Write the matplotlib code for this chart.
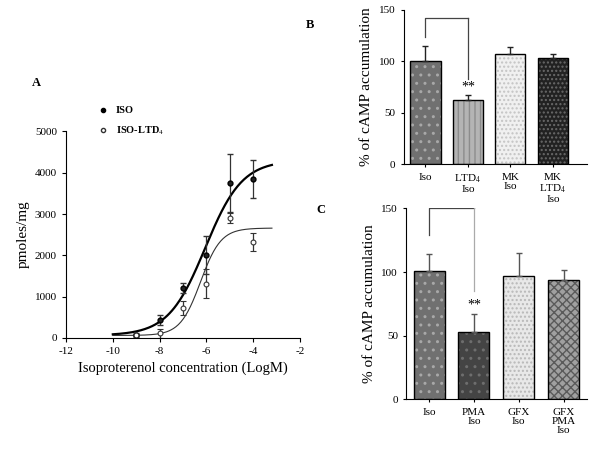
import numpy as np
import matplotlib
matplotlib.use('Agg')
import matplotlib.pyplot as plt
from matplotlib.lines import Line2D

plt.rcParams['font.family'] = ['Liberation Serif', 'DejaVu Serif']
plt.rcParams['mathtext.fontset'] = 'stix'
plt.rcParams['hatch.linewidth'] = 1.0
plt.rcParams['axes.unicode_minus'] = False

# panel A: dose response
conc = [-9, -8, -7, -6, -5, -4]
iso = [80, 440, 1200, 2010, 3760, 3850]
iso_err = [40, 120, 120, 470, 700, 460]
ltd = [60, 110, 730, 1310, 2910, 2330]
ltd_err = [40, 100, 170, 350, 120, 220]
# sigmoid fit parameters (bottom, top, logEC50, hill)
iso_fit = (60, 4300, -6.05, 0.55)
ltd_fit = (60, 2660, -6.25, 1.0)

# panel B
b_labels = ['Iso', 'LTD$_4$\nIso', 'MK\nIso', 'MK\nLTD$_4$\nIso']
b_vals = [100, 62, 107, 103]
b_err = [15, 5, 7, 4]
b_face = ['#707070', '#b4b4b4', '#f0f0f0', '#222222']
b_hatch = ['..', '|||', '....', '....']
b_hcol = ['#a8a8a8', '#8c8c8c', '#c4c4c4', '#6a6a6a']
b_bracket = [142, 124, 83]

# panel C
c_labels = ['Iso', 'PMA\nIso', 'GFX\nIso', 'GFX\nPMA\nIso']
c_vals = [101, 53, 97, 94]
c_err = [13, 14, 18, 8]
c_face = ['#707070', '#444444', '#e8e8e8', '#a0a0a0']
c_hatch = ['..', '..', '....', 'xxxx']
c_hcol = ['#a8a8a8', '#6e6e6e', '#b8b8b8', '#5a5a5a']
c_bracket = [150, 129, 85]


def logistic(x, p):
    b, t, e, h = p
    return b + (t - b) / (1 + 10 ** ((e - x) * h))


fig = plt.figure(figsize=(6, 4.5), dpi=100)

# ---- A ----
axA = fig.add_axes([0.11, 0.249, 0.39, 0.459])
xs = np.linspace(-10, -3.2, 200)
axA.plot(xs, logistic(xs, iso_fit), color='black', lw=1.6)
axA.plot(xs, logistic(xs, ltd_fit), color='#333333', lw=0.8)
axA.errorbar(conc, iso, yerr=iso_err, fmt='o', color='black', ms=3.5, mfc='#222222',
             mec='black', ecolor='#333333', elinewidth=0.9, capsize=2.5)
axA.errorbar(conc, ltd, yerr=ltd_err, fmt='o', color='black', ms=3.5, mfc='white',
             mec='#333333', mew=0.8, ecolor='#333333', elinewidth=0.9, capsize=2.5)
axA.set_xlim(-12, -2)
axA.set_ylim(0, 5000)
axA.set_xticks([-12, -10, -8, -6, -4, -2])
axA.set_yticks([0, 1000, 2000, 3000, 4000, 5000])
for s in ['top', 'right']:
    axA.spines[s].set_visible(False)
axA.tick_params(labelsize=8, length=3)
axA.set_xlabel('Isoproterenol concentration (LogM)', fontsize=10.5)
axA.set_ylabel('pmoles/mg', fontsize=11)
handles = [Line2D([], [], marker='o', ls='none', color='black', ms=3),
           Line2D([], [], marker='o', ls='none', mfc='white', mec='#333333', ms=3)]
fig.legend(handles, ['ISO', 'ISO-LTD$_4$'], loc='upper left', bbox_to_anchor=(0.148, 0.785),
           frameon=False, prop={'size': 7.5, 'weight': 'bold'}, handletextpad=0.7,
           handlelength=1.0, labelspacing=0.9)
fig.text(0.053, 0.81, 'A', fontsize=9, fontweight='bold')


def bar_panel(ax, labels, vals, err, face, hatch, hcol, bracket, width, xmax, ecol, rcol):
    x = np.arange(len(vals))
    ax.bar(x, vals, width=width, color=face, edgecolor=hcol, hatch=hatch, lw=0)
    ax.bar(x, vals, width=width, fill=False, edgecolor='black', lw=1.0)
    ax.errorbar(x, vals, yerr=[[0] * len(vals), err], fmt='none', ecolor=ecol,
                elinewidth=1.0, capsize=2.5, capthick=1.0)
    ax.plot([x[0], x[0], x[1]], [bracket[1], bracket[0], bracket[0]], color='#444444', lw=0.9)
    ax.plot([x[1], x[1]], [bracket[0], bracket[2]], color=rcol, lw=0.9)
    ax.text(x[1], vals[1] + err[1] + 2, '**', ha='center', va='bottom', fontsize=10)
    ax.set_xlim(-0.51, xmax)
    ax.set_ylim(0, 150)
    ax.set_yticks([0, 50, 100, 150])
    ax.set_xticks(x)
    ax.set_xticklabels(labels, fontsize=8, linespacing=1.05)
    ax.tick_params(labelsize=8, length=2.5)
    for s in ['top', 'right']:
        ax.spines[s].set_visible(False)
    ax.set_ylabel('% of cAMP accumulation', fontsize=11)


axB = fig.add_axes([0.673, 0.635, 0.305, 0.343])
bar_panel(axB, b_labels, b_vals, b_err, b_face, b_hatch, b_hcol, b_bracket, 0.71, 3.8,
          '#222222', '#444444')
fig.text(0.517, 0.944, 'B', fontsize=9, fontweight='bold', va='center', ha='center')

axC = fig.add_axes([0.677, 0.1127, 0.302, 0.424])
bar_panel(axC, c_labels, c_vals, c_err, c_face, c_hatch, c_hcol, c_bracket, 0.69, 3.53,
          '#555555', '#aaaaaa')
fig.text(0.535, 0.533, 'C', fontsize=9, fontweight='bold', va='center', ha='center')

fig.savefig('out.png', dpi=100)
